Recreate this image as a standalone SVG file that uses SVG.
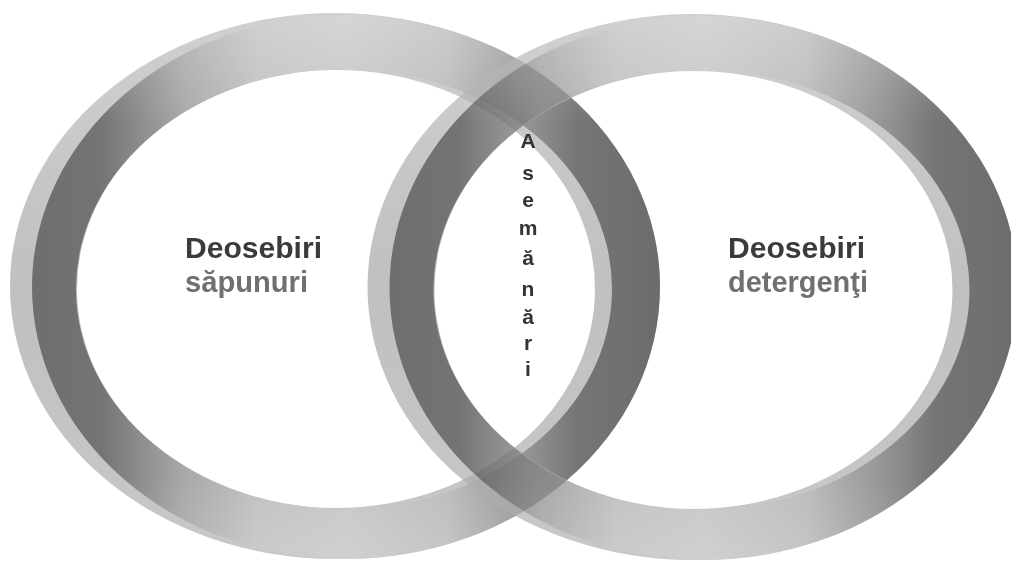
<svg xmlns="http://www.w3.org/2000/svg" width="1011" height="562" viewBox="0 0 1011 562">
  <defs>
    <linearGradient id="face" gradientUnits="userSpaceOnUse" x1="32" y1="0" x2="660" y2="0">
      <stop offset="0" stop-color="#6e6e6e"/>
      <stop offset="0.11" stop-color="#747474"/>
      <stop offset="0.24" stop-color="#a8a8a8"/>
      <stop offset="0.36" stop-color="#c2c2c2"/>
      <stop offset="0.5" stop-color="#c8c8c8"/>
      <stop offset="0.66" stop-color="#bdbdbd"/>
      <stop offset="0.78" stop-color="#979797"/>
      <stop offset="0.87" stop-color="#757575"/>
      <stop offset="1" stop-color="#6c6c6c"/>
    </linearGradient>
    <linearGradient id="rim" gradientUnits="userSpaceOnUse" x1="0" y1="13" x2="0" y2="560">
      <stop offset="0" stop-color="#d0d0d0"/>
      <stop offset="0.5" stop-color="#c0c0c0"/>
      <stop offset="1" stop-color="#c8c8c8"/>
    </linearGradient>
    <linearGradient id="sheen" gradientUnits="userSpaceOnUse" x1="0" y1="13" x2="0" y2="560">
      <stop offset="0" stop-color="#ffffff" stop-opacity="0.25"/>
      <stop offset="0.2" stop-color="#ffffff" stop-opacity="0"/>
      <stop offset="0.85" stop-color="#ffffff" stop-opacity="0"/>
      <stop offset="1" stop-color="#ffffff" stop-opacity="0.15"/>
    </linearGradient>
    <g id="ring">
      <path fill="url(#rim)" fill-rule="evenodd" d="M10,286 A325,273 0 1,0 660,286 A325,273 0 1,0 10,286 Z M77,289 A259,219 0 1,0 595,289 A259,219 0 1,0 77,289 Z"/>
      <path fill="url(#face)" fill-rule="evenodd" d="M32,287 A314,272 0 1,0 660,287 A314,272 0 1,0 32,287 Z M76,289 A268,220 0 1,0 612,289 A268,220 0 1,0 76,289 Z"/>
      <path fill="url(#sheen)" fill-rule="evenodd" d="M32,287 A314,272 0 1,0 660,287 A314,272 0 1,0 32,287 Z M76,289 A268,220 0 1,0 612,289 A268,220 0 1,0 76,289 Z"/>
    </g>
    <clipPath id="rightArea">
      <path clip-rule="evenodd" transform="translate(357.5,1)" d="M10,286 A325,273 0 1,0 660,286 A325,273 0 1,0 10,286 Z M77,289 A259,219 0 1,0 595,289 A259,219 0 1,0 77,289 Z"/>
    </clipPath>
    <style>
      .hd { font-family: "Liberation Sans", Arial, sans-serif; font-weight: bold; font-size: 29px; fill: #3b3b3b; }
      .sub { font-family: "Liberation Sans", Arial, sans-serif; font-weight: bold; font-size: 29px; fill: #707070; }
      .vt { font-family: "Liberation Sans", Arial, sans-serif; font-weight: bold; font-size: 21px; fill: #333333; text-anchor: middle; }
    </style>
  </defs>
  <rect width="1011" height="562" fill="#ffffff"/>
  <g id="ring-left">
    <use href="#ring"/>
  </g>
  <g id="ring-right">
    <use href="#ring" transform="translate(357.5,1)"/>
  </g>
  <g id="overlap" clip-path="url(#rightArea)" style="mix-blend-mode:multiply" opacity="0.4">
    <use href="#ring"/>
  </g>
  <g id="connectors"/>
  <g id="label-left">
    <text class="hd" x="185" y="258" textLength="137" lengthAdjust="spacingAndGlyphs">Deosebiri</text>
    <text class="sub" x="185" y="292" textLength="123" lengthAdjust="spacingAndGlyphs">săpunuri</text>
  </g>
  <g id="label-right">
    <text class="hd" x="728" y="258" textLength="137" lengthAdjust="spacingAndGlyphs">Deosebiri</text>
    <text class="sub" x="728" y="292" textLength="140" lengthAdjust="spacingAndGlyphs">detergenţi</text>
  </g>
  <g id="label-center">
    <text class="vt" x="528" y="148">A</text>
    <text class="vt" x="528" y="180">s</text>
    <text class="vt" x="528" y="207">e</text>
    <text class="vt" x="528" y="235">m</text>
    <text class="vt" x="528" y="265">ă</text>
    <text class="vt" x="528" y="296">n</text>
    <text class="vt" x="528" y="324">ă</text>
    <text class="vt" x="528" y="350">r</text>
    <text class="vt" x="528" y="376">i</text>
  </g>
</svg>
